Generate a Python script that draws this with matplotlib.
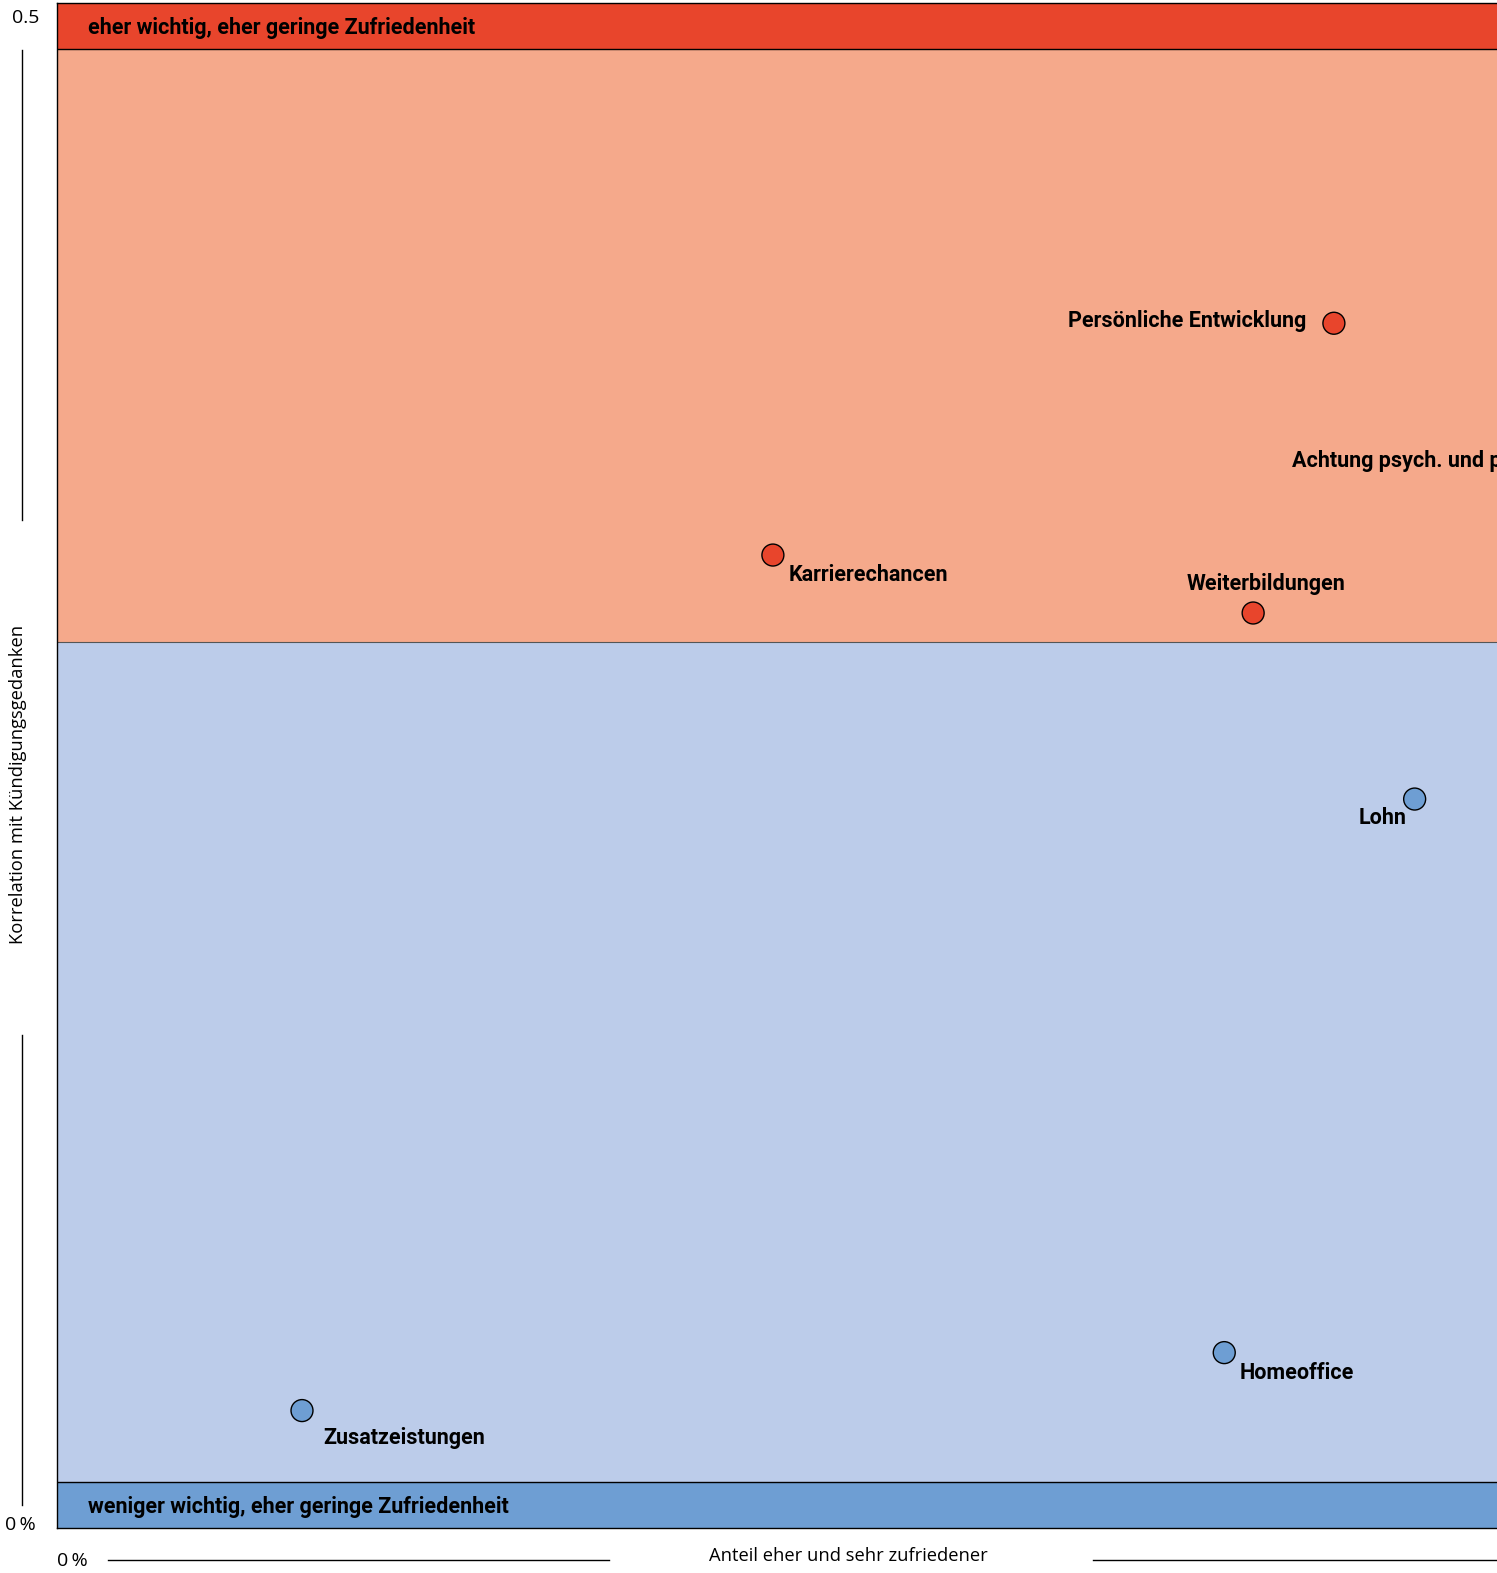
import matplotlib
matplotlib.use("Agg")
import matplotlib.pyplot as plt
from matplotlib.lines import Line2D

# Faktoren: Anteil eher/sehr Zufriedener (%) und Korrelation mit Kündigungsgedanken
factors = ["Persönliche Entwicklung", "Achtung psych. und phys. Gesundheit",
           "Karrierechancen", "Weiterbildungen", "Lohn", "Homeoffice",
           "Zusatzeistungen"]
satisfied_share = [75.1, 95.8, 42.1, 70.35, 79.85, 68.65, 14.4]
correlation = [0.395, 0.349, 0.319, 0.300, 0.239, 0.0575, 0.0385]
threshold = 0.2905

band_top = "eher wichtig, eher geringe Zufriedenheit"
band_bottom = "weniger wichtig, eher geringe Zufriedenheit"
x_label = "Anteil eher und sehr zufriedener"
y_label = "Korrelation mit Kündigungsgedanken"
y_tick_top = "0.5"
y_tick_bottom = "0\u2009%"
x_tick_left = "0\u2009%"

RED = "#E8452C"
SALMON = "#F5A98B"
LIGHT_BLUE = "#BCCCEA"
BLUE = "#6E9ED3"

W, H, DPI = 1497, 1573, 100
fig = plt.figure(figsize=(W / DPI, H / DPI), dpi=DPI)
fig.patch.set_facecolor("white")

# the plotting area runs on past the right edge of the figure
ax = fig.add_axes([57.2 / W, 45 / H, 1700 / W, 1525 / H])
ax.set_xlim(0, 100)
ax.set_ylim(0, 0.5)
ax.set_xticks([])
ax.set_yticks([])
for s in ax.spines.values():
    s.set_linewidth(1.0)
    s.set_color("black")

# background zones
band_h = 0.015
ax.axhspan(threshold, 0.5 - band_h, color=SALMON, lw=0, zorder=0)
ax.axhspan(band_h, threshold, color=LIGHT_BLUE, lw=0, zorder=0)
ax.axhspan(0.5 - band_h, 0.5, color=RED, lw=0, zorder=0)
ax.axhspan(0, band_h, color=BLUE, lw=0, zorder=0)
ax.axhline(0.5 - band_h, color="black", lw=1.0, zorder=1)
ax.axhline(band_h, color="black", lw=1.0, zorder=1)
ax.axhline(threshold, color="#555555", lw=0.8, zorder=1)

bold = dict(family=["Roboto", "DejaVu Sans"], fontweight="bold", fontsize=15.5)
ax.annotate(band_top, xy=(0, 0.5 - band_h / 2), xycoords=("axes fraction", "data"),
            xytext=(22, -1.2), textcoords="offset points", va="center", ha="left", **bold)
ax.annotate(band_bottom, xy=(0, band_h / 2), xycoords=("axes fraction", "data"),
            xytext=(22, -1.2), textcoords="offset points", va="center", ha="left", **bold)

colors = [RED if c >= threshold else BLUE for c in correlation]
ax.scatter(satisfied_share, correlation, s=250, c=colors, edgecolors="black",
           linewidths=1.0, zorder=3, clip_on=False)

# label placement per point: (dx, dy) in points, horizontal alignment
label_pos = {
    "Persönliche Entwicklung": ((-20, 1.5), "right"),
    "Achtung psych. und phys. Gesundheit": ((-20, 1.5), "right"),
    "Karrierechancen": ((11, -14.5), "left"),
    "Weiterbildungen": ((9, 21), "center"),
    "Lohn": ((-6, -14), "right"),
    "Homeoffice": ((11, -14.5), "left"),
    "Zusatzeistungen": ((15, -20), "left"),
}
for name, x, y in zip(factors, satisfied_share, correlation):
    (dx, dy), ha = label_pos[name]
    ax.annotate(name, xy=(x, y), xytext=(dx, dy), textcoords="offset points",
                ha=ha, va="center", zorder=4, **bold)

# axis captions drawn in figure space
light = dict(family=["Open Sans", "DejaVu Sans"], fontsize=13.2, color="black")
tick = dict(family=["Open Sans", "DejaVu Sans"], fontsize=14, color="black")
fig.text(26 / W, 1 - 18 / H, y_tick_top, ha="center", va="center", **tick)
fig.text(20 / W, 1 - 1525 / H, y_tick_bottom, ha="center", va="center", **tick)
fig.text(72 / W, 1 - 1561 / H, x_tick_left, ha="center", va="center", **tick)
fig.text(18 / W, 1 - 784 / H, y_label, rotation=90, ha="center", va="center", **light)
fig.text(848 / W, 1 - 1556 / H, x_label, ha="center", va="center", **light)

for (x0, y0, x1, y1) in [(22, 50, 22, 520), (22, 1035, 22, 1505),
                         (108, 1560, 609, 1560), (1093, 1560, 1497, 1560)]:
    fig.add_artist(Line2D([x0 / W, x1 / W], [1 - y0 / H, 1 - y1 / H],
                          transform=fig.transFigure, color="black", lw=1.0))

fig.savefig("out.png", dpi=DPI)
